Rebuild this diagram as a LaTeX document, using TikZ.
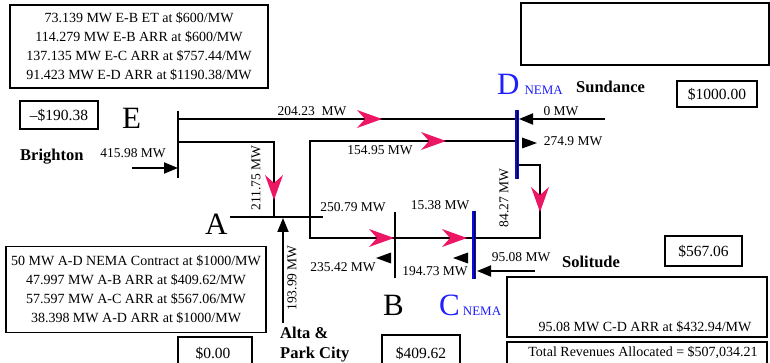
\documentclass[tikz,border=0pt]{standalone}
\usepackage{fontspec}
\setmainfont{Liberation Serif}
\usetikzlibrary{arrows.meta}
\definecolor{pinkc}{RGB}{236,22,100}
\definecolor{busblue}{RGB}{10,10,225}
\definecolor{nemablue}{RGB}{30,30,255}
\begin{document}
\begin{tikzpicture}[x=1pt,y=-1pt,
  wire/.style={line width=1.8pt},
  nbus/.style={line width=4.5pt, draw=busblue},
  inarrow/.style={wire,-{Triangle[length=14pt,width=11pt]}},
  lbl/.style={font=\fontsize{13.5}{15}\selectfont, inner sep=0pt},
  boxtxt/.style={draw, line width=1.8pt, align=center, font=\fontsize{14}{19}\selectfont, inner sep=0pt},
  price/.style={font=\fontsize{15.5}{17}\selectfont, inner sep=0pt},
  frame/.style={draw, line width=1.8pt},
  site/.style={font=\bfseries\fontsize{16.5}{22}\selectfont, inner sep=0pt, anchor=base west},
  busname/.style={font=\fontsize{31}{31}\selectfont, inner sep=0pt, anchor=base west},
  pinkarr/.pic={\fill[pinkc] (0,0) -- (-25,9) -- (-17,0) -- (-25,-9) -- cycle;},
  tri/.pic={\fill (0,0) -- (-15,5.5) -- (-15,-5.5) -- cycle;}
]
\useasboundingbox (0,0) rectangle (770,363);

% ---------- coordinates ----------
\coordinate (Et) at (178,111); \coordinate (Eb) at (178,178);
\coordinate (EtD) at (178,119); \coordinate (EA1) at (178,142);
\coordinate (EA2) at (274,142); \coordinate (EA3) at (274,217);
\coordinate (Al) at (230,217); \coordinate (Ar) at (323,217);
\coordinate (Dt) at (517,110); \coordinate (Db) at (517,179);
\coordinate (DE) at (517,119); \coordinate (DA) at (517,141);
\coordinate (Dr) at (517,165);
\coordinate (Sund) at (605,119); \coordinate (SundT) at (519,119);
\coordinate (AD1) at (310,141); \coordinate (AD2) at (310,238);
\coordinate (R1) at (540,165); \coordinate (R2) at (540,238);
\coordinate (Bt) at (395,212); \coordinate (Bb) at (395,278);
\coordinate (Ct) at (474,211); \coordinate (Cb) at (474,279);
\coordinate (Sol) at (535,271); \coordinate (SolT) at (477,271);
\coordinate (Alta) at (283,323); \coordinate (AltaT) at (283,218);
\coordinate (Bri) at (132,168); \coordinate (BriT) at (178,168);

% ---------- lines ----------
\draw[wire] (EtD) -- (DE);
\draw[wire] (EA1) -- (EA2) -- (EA3);
\draw[wire] (Al) -- (Ar);
\draw[wire] (DA) -- (AD1) -- (AD2) -- (R2) -- (R1) -- (Dr);
\draw[wire] (Et) -- (Eb);
\draw[wire] (Bt) -- (Bb);
\draw[inarrow] (Sund) -- (SundT);
\draw[inarrow] (Sol) -- (SolT);
\draw[inarrow] (Alta) -- (AltaT);
\draw[inarrow] (Bri) -- (BriT);
\draw[nbus] (Dt) -- (Db);
\draw[line width=1pt] (Dt) -- (Db);
\draw[nbus] (Ct) -- (Cb);
\draw[line width=1pt] (Ct) -- (Cb);

% ---------- flow arrows ----------
\pic[rotate=-90] at (274,200) {pinkarr};
\pic at (382,119) {pinkarr};
\pic at (446,141) {pinkarr};
\pic[rotate=-90] at (540,212) {pinkarr};
\pic at (394,238) {pinkarr};
\pic at (467,238) {pinkarr};
\pic at (537,143) {tri};
\pic[rotate=180] at (376,258) {tri};
\pic[rotate=180] at (453,258) {tri};

% ---------- flow labels ----------
\node[lbl] (l1) at (312,111) {204.23\ \ MW};
\node[lbl] (l2) at (380,150) {154.95 MW};
\node[lbl, rotate=90] (l3) at (256,178) {211.75 MW};
\node[lbl] (l4) at (133,153) {415.98 MW};
\node[lbl] (l5) at (353,207) {250.79 MW};
\node[lbl] (l6) at (440,205) {15.38 MW};
\node[lbl] (l7) at (343,267) {235.42 MW};
\node[lbl] (l8) at (435,271) {194.73 MW};
\node[lbl] (l9) at (521,257) {95.08 MW};
\node[lbl, rotate=90] (l10) at (504,198) {84.27 MW};
\node[lbl] (l11) at (561,111) {0 MW};
\node[lbl] (l12) at (573,141) {274.9 MW};
\node[lbl, rotate=90] (l13) at (292,278) {193.99 MW};

% ---------- bus names ----------
\node[busname] (nE) at (122,129) {E};
\node[busname] (nA) at (205,235) {A};
\node[busname] (nB) at (383,315) {B};
\node[busname, text=nemablue] (nC) at (439,315) {C\hspace{3pt}{\fontsize{13}{13}\selectfont NEMA}};
\node[busname, text=nemablue] (nD) at (497,95) {D\hspace{5pt}{\fontsize{13}{13}\selectfont NEMA}};
\node[site] (sSun) at (576,93) {Sundance};
\node[site] (sBri) at (20,161) {Brighton};
\node[site] (sSol) at (562,267) {Solitude};
\node[site] (sAlta) at (280,338) {Alta \&};
\node[site] (sPark) at (280,358) {Park City};

% ---------- boxes ----------
\node[boxtxt, minimum width=258pt, minimum height=83pt] (boxE) at (139,46.5)
  {73.139 MW E-B ET at \$600/MW\\114.279 MW E-B ARR at \$600/MW\\137.135 MW E-C ARR at \$757.44/MW\\91.423 MW E-D ARR at \$1190.38/MW};
\node[boxtxt, minimum width=260pt, minimum height=86pt] (boxA) at (136,289.5)
  {50 MW A-D NEMA Contract at \$1000/MW\\47.997 MW A-B ARR at \$409.62/MW\\57.597 MW A-C ARR at \$567.06/MW\\38.398 MW A-D ARR at \$1000/MW};

\draw[frame] (20,101) rectangle (98,129);
\node[price] (pE) at (59,115) {\textendash\$190.38};
\draw[frame] (677,81) rectangle (757,107);
\node[price] (pD) at (717,94) {\$1000.00};
\draw[frame] (665,236) rectangle (742,266);
\node[price] (pC) at (703.5,251) {\$567.06};
\draw[frame] (178,337) rectangle (252,375);
\node[price] (pA) at (213,353) {\$0.00};
\draw[frame] (382,335) rectangle (460,375);
\node[price] (pB) at (421,353) {\$409.62};

\draw[frame] (521,3) rectangle (769,65);
\draw[frame] (507,277) rectangle (767,337);
\node[lbl, font=\fontsize{14}{16}\selectfont] (cd) at (645,327) {95.08 MW C-D ARR at \$432.94/MW};
\draw[frame] (507,342) rectangle (767,375);
\node[lbl, font=\fontsize{14}{16}\selectfont] (tot) at (643,353) {Total Revenues Allocated = \$507,034.21};
\end{tikzpicture}
\end{document}
